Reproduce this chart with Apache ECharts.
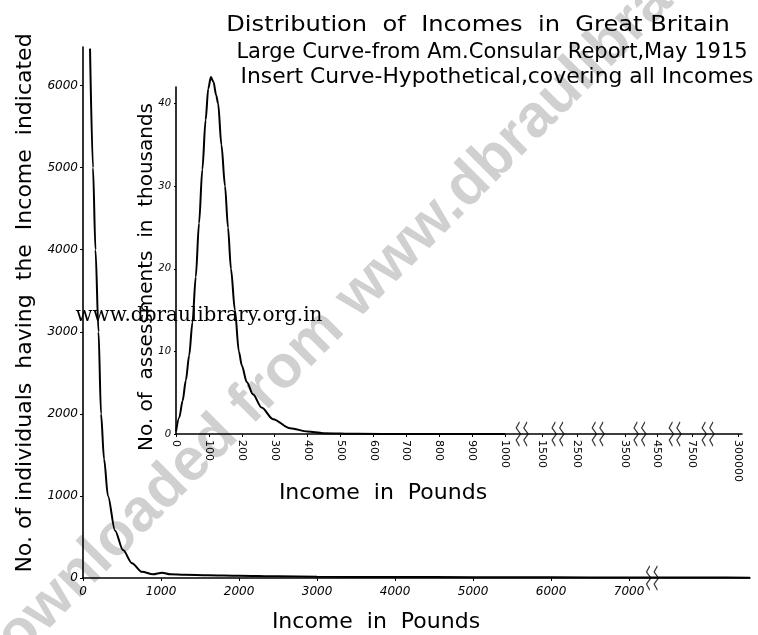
<!DOCTYPE html>
<html>
<head>
<meta charset="utf-8">
<script src="https://cdn.jsdelivr.net/npm/echarts@6/dist/echarts.min.js"></script>
<style>
  html, body { margin: 0; padding: 0; background: #fff; }
  #chart { width: 758px; height: 635px; }
</style>
</head>
<body>
<div id="chart"></div>
<script>
// large curve: individuals by income (from the consular report)
var mainIncome = [90, 128, 160, 199, 231, 270, 320, 410, 513, 628, 756, 897, 1013, 1120, 1300, 1600, 2000, 2500, 3000, 4000, 5000, 6000, 7000, 8000, 8550];
var mainCount  = [6450, 5000, 4000, 3000, 2000, 1450, 1000, 580, 340, 180, 75, 45, 65, 45, 40, 35, 28, 20, 15, 12, 10, 8, 6, 5, 4];
var mainXTicks = [0, 1000, 2000, 3000, 4000, 5000, 6000, 7000];
var mainYTicks = [0, 1000, 2000, 3000, 4000, 5000, 6000];
var mainBreaks = [7300];

// insert curve: assessments in thousands (hypothetical)
var insetIncome    = [0, 10, 20, 30, 40, 50, 60, 70, 80, 90, 98, 106, 114, 122, 128, 138, 149, 158, 167, 179, 191, 200, 215, 234, 260, 295, 347, 400, 447, 550, 700, 1000];
var insetThousands = [0.3, 2, 4, 6.5, 9.5, 13.5, 19, 25.5, 32, 38, 41.8, 43.2, 42.6, 41, 40, 35, 30, 25, 20, 15, 10, 8.3, 6.3, 4.8, 3.2, 1.8, 0.7, 0.3, 0.1, 0.02, 0, 0];
var insetYTicks = [0, 10, 20, 30, 40];
// the axis is broken after 1000, so ticks sit at drawn positions
var insetTickPos    = [0, 100, 200, 300, 400, 500, 600, 700, 800, 900, 1000, 1112, 1219, 1365, 1462, 1568, 1708];
var insetTickLabels = ['0', '100', '200', '300', '400', '500', '600', '700', '800', '900', '1000', '1500', '2500', '3500', '4500', '7500', '300000'];
var insetBreaks = [1052, 1161, 1283, 1410, 1517, 1617];

var FONT = 'DejaVu Sans';
var squiggle = 'path://M3,0 L0,6 L4,12 L0,18 L3,24 M10,0 L7,6 L11,12 L7,18 L10,24';

function zip(a, b) {
  return a.map(function (v, i) { return [v, b[i]]; });
}
function plain(v) { return String(v); }

var chart = echarts.init(document.getElementById('chart'), null, { renderer: 'canvas' });

var axisLineStyle = { color: '#000', width: 1.6 };

var option = {
  backgroundColor: '#fff',
  animation: false,
  grid: [
    { left: 83, top: 47, width: 667, height: 531 },
    { left: 176, top: 87, width: 566, height: 347 }
  ],
  xAxis: [
    {
      type: 'value', gridIndex: 0, min: 0, max: 8550,
      axisLine: { lineStyle: axisLineStyle },
      axisTick: { customValues: mainXTicks, length: 3, lineStyle: { color: '#000' } },
      splitLine: { show: false },
      axisLabel: {
        customValues: mainXTicks, formatter: plain, color: '#000', fontFamily: FONT,
        fontSize: 12, fontStyle: 'italic', margin: 8
      }
    },
    {
      type: 'value', gridIndex: 1, min: 0, max: 1720,
      axisLine: { lineStyle: axisLineStyle },
      axisTick: { customValues: insetTickPos, length: 3, lineStyle: { color: '#000' } },
      splitLine: { show: false },
      axisLabel: {
        customValues: insetTickPos, rotate: -90, color: '#000', fontFamily: FONT,
        fontSize: 11, margin: 6,
        formatter: function (v) {
          var i = insetTickPos.indexOf(v);
          return i >= 0 ? insetTickLabels[i] : '';
        }
      }
    }
  ],
  yAxis: [
    {
      type: 'value', gridIndex: 0, min: 0, max: 6470,
      axisLine: { show: true, lineStyle: axisLineStyle },
      axisTick: { show: true, customValues: mainYTicks, length: 3, lineStyle: { color: '#000' } },
      splitLine: { show: false },
      axisLabel: {
        customValues: mainYTicks, formatter: plain, color: '#000', fontFamily: FONT,
        fontSize: 12, fontStyle: 'italic', margin: 5
      }
    },
    {
      type: 'value', gridIndex: 1, min: 0, max: 42,
      axisLine: { show: true, lineStyle: axisLineStyle },
      axisTick: { show: true, customValues: insetYTicks, length: 2, lineStyle: { color: '#000' } },
      splitLine: { show: false },
      axisLabel: {
        customValues: insetYTicks, formatter: plain, color: '#000', fontFamily: FONT,
        fontSize: 10, fontStyle: 'italic', margin: 5
      }
    }
  ],
  series: [
    {
      name: 'Large Curve', type: 'line', xAxisIndex: 0, yAxisIndex: 0,
      data: zip(mainIncome, mainCount), smooth: 0.3, smoothMonotone: 'x',
      showSymbol: false, clip: false,
      lineStyle: { color: '#000', width: 2 }, z: 5
    },
    {
      name: 'Insert Curve', type: 'line', xAxisIndex: 1, yAxisIndex: 1,
      data: zip(insetIncome, insetThousands), smooth: 0.3, smoothMonotone: 'x',
      showSymbol: false, clip: false,
      lineStyle: { color: '#000', width: 2 }, z: 5
    },
    {
      type: 'scatter', xAxisIndex: 0, yAxisIndex: 0,
      data: mainBreaks.map(function (b) { return [b, 0]; }),
      symbol: squiggle, symbolSize: [12, 24], silent: true,
      itemStyle: { color: 'transparent', borderColor: '#000', borderWidth: 1.2 }, z: 6
    },
    {
      type: 'scatter', xAxisIndex: 1, yAxisIndex: 1,
      data: insetBreaks.map(function (b) { return [b, 0]; }),
      symbol: squiggle, symbolSize: [12, 24], silent: true,
      itemStyle: { color: 'transparent', borderColor: '#000', borderWidth: 1.2 }, z: 6
    }
  ],
  graphic: [
    {
      type: 'text', x: -24, y: 678, rotation: Math.PI / 4, z: -10, silent: true,
      style: {
        text: 'Downloaded from www.dbraulibrary.org.in', fill: 'rgba(150,150,150,0.45)',
        font: 'bold 60px "Liberation Sans"', textAlign: 'left', textVerticalAlign: 'middle',
        shadowBlur: 6, shadowColor: 'rgba(150,150,150,0.6)'
      }
    },
    {
      type: 'text', x: 199, y: 316, z: 20, silent: true,
      style: {
        text: 'www.dbraulibrary.org.in', fill: '#000',
        font: '20px "DejaVu Serif"', textAlign: 'center', textVerticalAlign: 'middle'
      }
    },
    {
      type: 'text', x: 478, y: 26, scaleX: 1.15,
      style: { text: 'Distribution  of  Incomes  in  Great Britain', fill: '#000',
        font: '21px "DejaVu Sans"', textAlign: 'center', textVerticalAlign: 'middle' }
    },
    {
      type: 'text', x: 492, y: 53,
      style: { text: 'Large Curve-from Am.Consular Report,May 1915', fill: '#000',
        font: '21px "DejaVu Sans"', textAlign: 'center', textVerticalAlign: 'middle' }
    },
    {
      type: 'text', x: 497, y: 78, scaleX: 1.04,
      style: { text: 'Insert Curve-Hypothetical,covering all Incomes', fill: '#000',
        font: '21px "DejaVu Sans"', textAlign: 'center', textVerticalAlign: 'middle' }
    },
    {
      type: 'text', x: 25, y: 303, rotation: Math.PI / 2,
      style: { text: 'No. of individuals  having  the  Income  indicated', fill: '#000',
        font: '22px "DejaVu Sans"', textAlign: 'center', textVerticalAlign: 'middle' }
    },
    {
      type: 'text', x: 376, y: 622,
      style: { text: 'Income  in  Pounds', fill: '#000',
        font: '22px "DejaVu Sans"', textAlign: 'center', textVerticalAlign: 'middle' }
    },
    {
      type: 'text', x: 147, y: 277, rotation: Math.PI / 2,
      style: { text: 'No. of  assessments  in  thousands', fill: '#000',
        font: '20px "DejaVu Sans"', textAlign: 'center', textVerticalAlign: 'middle' }
    },
    {
      type: 'text', x: 383, y: 493,
      style: { text: 'Income  in  Pounds', fill: '#000',
        font: '22px "DejaVu Sans"', textAlign: 'center', textVerticalAlign: 'middle' }
    }
  ]
};

chart.setOption(option);
</script>
</body>
</html>
